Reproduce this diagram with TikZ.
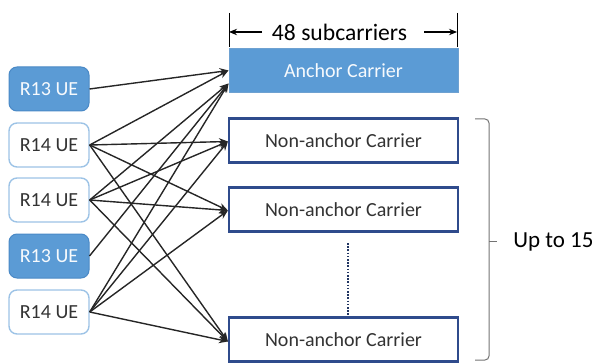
\documentclass[tikz,border=0pt]{standalone}
\usepackage{fontspec}
\setmainfont{Carlito}
\usetikzlibrary{arrows.meta,calc}
\definecolor{ueblue}{HTML}{5B9BD5}
\definecolor{ueedge}{HTML}{4A89C6}
\definecolor{lightedge}{HTML}{9DC3E6}
\definecolor{navy}{HTML}{2F4B8C}
\definecolor{txt}{HTML}{333333}
\tikzset{
  uebox/.style={rounded corners=4pt, minimum width=40pt, minimum height=22pt,
    inner sep=0pt, font=\fontsize{10}{12}\selectfont},
  rthirteen/.style={uebox, fill=ueblue, draw=ueedge, line width=0.5pt, text=white!95!ueblue},
  rfourteen/.style={uebox, fill=white, draw=lightedge, line width=0.7pt, text=txt},
  carrier/.style={minimum width=114.5pt, minimum height=22pt, inner sep=0pt,
    font=\fontsize{10}{12}\selectfont},
  anchorbox/.style={carrier, fill=ueblue, draw=ueedge!80!white, line width=0.5pt, text=white!95!ueblue},
  nonanchor/.style={carrier, fill=white, draw=navy, line width=1.1pt, text=txt},
  link/.style={draw=black!85, line width=0.7pt, -{Stealth[length=4.5pt,width=3.6pt]}},
  dimline/.style={draw=black, line width=0.5pt},
  dimarrow/.style={draw=black, line width=0.55pt, -{Stealth[length=4pt,width=3.2pt]}},
  bracketline/.style={draw=black!55, line width=0.5pt},
}
\begin{document}
\begin{tikzpicture}[x=0.5pt,y=-0.5pt]
\useasboundingbox (0,0) rectangle (592,363);

% user equipment
\node[rthirteen] (ue1) at (49,89)  {R13 UE};
\node[rfourteen] (ue2) at (49,145) {R14 UE};
\node[rfourteen] (ue3) at (49,200) {R14 UE};
\node[rthirteen] (ue4) at (49,256) {R13 UE};
\node[rfourteen] (ue5) at (49,312) {R14 UE};

% carriers
\node[anchorbox] (anc) at (343.5,70.5)  {Anchor Carrier};
\node[nonanchor] (na1) at (343.5,140.5) {Non-anchor Carrier};
\node[nonanchor] (na2) at (343.5,209.5) {Non-anchor Carrier};
\node[nonanchor] (na3) at (343.5,339.5) {Non-anchor Carrier};

% entry points on the carriers
\coordinate (ancA) at ($(anc.west)+(0,0)$);
\coordinate (ancB) at ($(anc.west)+(0,13)$);
\coordinate (na1in) at ($(na1.west)+(0,1)$);
\coordinate (na2in) at ($(na2.west)+(0,1)$);
\coordinate (na3in) at ($(na3.west)+(0,2)$);

% R13 UEs reach the anchor carrier only
\draw[link] (ue1.east) -- (ancA);
\draw[link] (ue4.east) -- (ancB);

% R14 UEs reach every carrier
\draw[link] (ue2.east) -- (ancA);
\draw[link] (ue2.east) -- (na1in);
\draw[link] (ue2.east) -- (na2in);
\draw[link] (ue2.east) -- (na3in);

\draw[link] (ue3.east) -- (ancB);
\draw[link] (ue3.east) -- (na1in);
\draw[link] (ue3.east) -- (na2in);
\draw[link] (ue3.east) -- (na3in);

\draw[link] (ue5.east) -- (ancB);
\draw[link] (ue5.east) -- (na1in);
\draw[link] (ue5.east) -- (na2in);
\draw[link] (ue5.east) -- (na3in);

% elided carriers
\coordinate (dotsTop) at (348,243);
\coordinate (dotsBot) at (348,315);
\draw[navy!70!black, line width=0.8pt, dash pattern=on 0.8pt off 0.8pt] (dotsTop) -- (dotsBot);

% bandwidth dimension
\coordinate (vlA1) at (229,13);
\coordinate (vlA2) at (229,47);
\coordinate (vlB1) at (457,13);
\coordinate (vlB2) at (457,47);
\draw[dimline] (vlA1) -- (vlA2);
\draw[dimline] (vlB1) -- (vlB2);
\node[font=\fontsize{11.8}{14}\selectfont, text=black, inner sep=0pt] (dim) at (339.5,32) {48 subcarriers};
\coordinate (dimL) at (262,32);
\coordinate (dimLend) at (229,32);
\coordinate (dimR) at (424,32);
\coordinate (dimRend) at (457,32);
\draw[dimarrow] (dimL) -- (dimLend);
\draw[dimarrow] (dimR) -- (dimRend);

% brace over the non-anchor carriers
\coordinate (brT1) at (475,119);
\coordinate (brT2) at (489,119);
\coordinate (brB1) at (475,360);
\coordinate (brB2) at (489,360);
\coordinate (brM) at (489,241);
\coordinate (brTip) at (497,241);
\draw[bracketline, rounded corners=2pt] (brT1) -- (brT2) -- (brB2) -- (brB1);
\draw[bracketline] (brM) -- (brTip);
\node[font=\fontsize{11.5}{14}\selectfont, text=black, anchor=west, inner sep=0pt] (upto) at (513,242) {Up to 15};
\end{tikzpicture}
\end{document}
